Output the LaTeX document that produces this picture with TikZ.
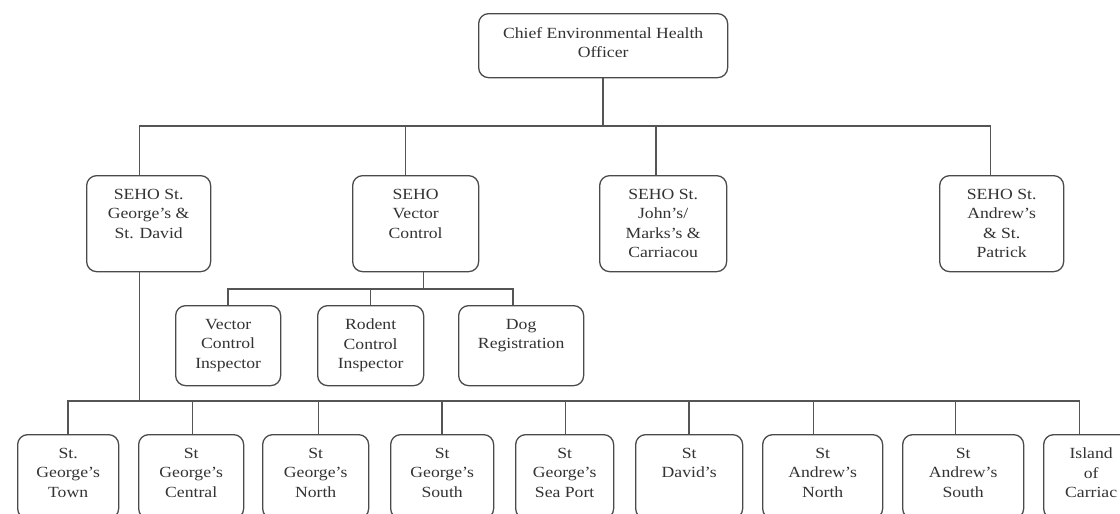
\documentclass[tikz,border=0pt]{standalone}
\usepackage{fontspec}
\setmainfont{Liberation Serif}[FakeStretch=1.14]
\definecolor{boxgray}{HTML}{4A4A4A}
\definecolor{linegray}{HTML}{555555}
\definecolor{textgray}{HTML}{333333}
% a rounded box given by its top-left corner, width and height, with its label near the top
\newcommand{\orgbox}[6]{%
  \node[box, minimum width=#4pt, minimum height=#5pt, anchor=north west] (#1) at (#2,#3) {};
  \node[lbl] (#1-t) at ([yshift=-14pt]#1.north) {#6};}
\begin{document}
\begin{tikzpicture}[x=1pt,y=-1pt,
  box/.style={draw=boxgray, line width=1.3pt, rounded corners=10pt, inner sep=0pt, fill=white},
  lbl/.style={anchor=north, align=center, inner sep=0pt, text=textgray,
              font=\fontsize{15.5}{19.5}\selectfont},
  link/.style={draw=linegray, line width=1.4pt}]
\useasboundingbox (0,0) rectangle (1120,514);
\fill[white] (0,0) rectangle (1120,514);
\clip (0,0) rectangle (1120,514);

% bus lines
\coordinate (topbus) at (600,126);
\coordinate (vbus) at (0,289);
\coordinate (dbus) at (0,401);

% top
\orgbox{chief}{478}{13}{249}{64}{Chief Environmental Health\\Officer}

% senior officers
\orgbox{s1}{86}{175}{124}{96}{SEHO St.\\George's \&\\St. David}
\orgbox{s2}{352}{175}{126}{96}{SEHO\\Vector\\Control}
\orgbox{s3}{599}{175}{127}{96}{SEHO St.\\John's/\\Marks's \&\\Carriacou}
\orgbox{s4}{939}{175}{124}{96}{SEHO St.\\Andrew's\\\& St.\\Patrick}

% vector control staff
\orgbox{v1}{175}{305}{105}{80}{Vector\\Control\\Inspector}
\orgbox{v2}{317}{305}{106}{80}{Rodent\\Control\\Inspector}
\orgbox{v3}{458}{305}{125}{80}{Dog\\Registration}

% districts
\orgbox{d1}{17}{434}{101}{84}{St.\\George's\\Town}
\orgbox{d2}{138}{434}{105}{84}{St\\George's\\Central}
\orgbox{d3}{262}{434}{106}{84}{St\\George's\\North}
\orgbox{d4}{390}{434}{103}{84}{St\\George's\\South}
\orgbox{d5}{515}{434}{98}{84}{St\\George's\\Sea Port}
\orgbox{d6}{635}{434}{107}{84}{St\\David's}
\orgbox{d7}{762}{434}{120}{84}{St\\Andrew's\\North}
\orgbox{d8}{902}{434}{121}{84}{St\\Andrew's\\South}
\orgbox{d9}{1043}{434}{95}{84}{Island\\of\\Carriac}

% chief to senior officers
\draw[link] (chief.south) -- (chief.south |- topbus);
\foreach \n/\dx in {s1/-9, s2/-10, s3/-7, s4/-11}
  \path ([xshift=\dx pt]\n.north) coordinate (\n-in);
\draw[link] (s1-in) -- (s1-in |- topbus) -- (s4-in |- topbus) -- (s4-in);
\draw[link] (s2-in) -- (s2-in |- topbus);
\draw[link] (s3-in) -- (s3-in |- topbus);

% vector control branch
\path ([xshift=8pt]s2.south) coordinate (s2-out);
\draw[link] (s2-out) -- (s2-out |- vbus);
\foreach \n/\dx in {v1/0, v2/0, v3/-8}
  \path ([xshift=\dx pt]\n.north) coordinate (\n-in);
\draw[link] (v1-in) -- (v1-in |- vbus) -- (v3-in |- vbus) -- (v3-in);
\draw[link] (v2-in) -- (v2-in |- vbus);

% district branch
\path ([xshift=-9pt]s1.south) coordinate (s1-out);
\draw[link] (s1-out) -- (s1-out |- dbus);
\foreach \n/\dx in {d1/0, d2/1.5, d3/3, d4/0, d5/1, d6/0, d7/-9, d8/-7.5, d9/-11.5}
  \path ([xshift=\dx pt]\n.north) coordinate (\n-in);
\draw[link] (d1-in) -- (d1-in |- dbus) -- (d9-in |- dbus) -- (d9-in);
\foreach \n in {d2,d3,d4,d5,d6,d7,d8}
  \draw[link] (\n-in) -- (\n-in |- dbus);
\end{tikzpicture}
\end{document}
